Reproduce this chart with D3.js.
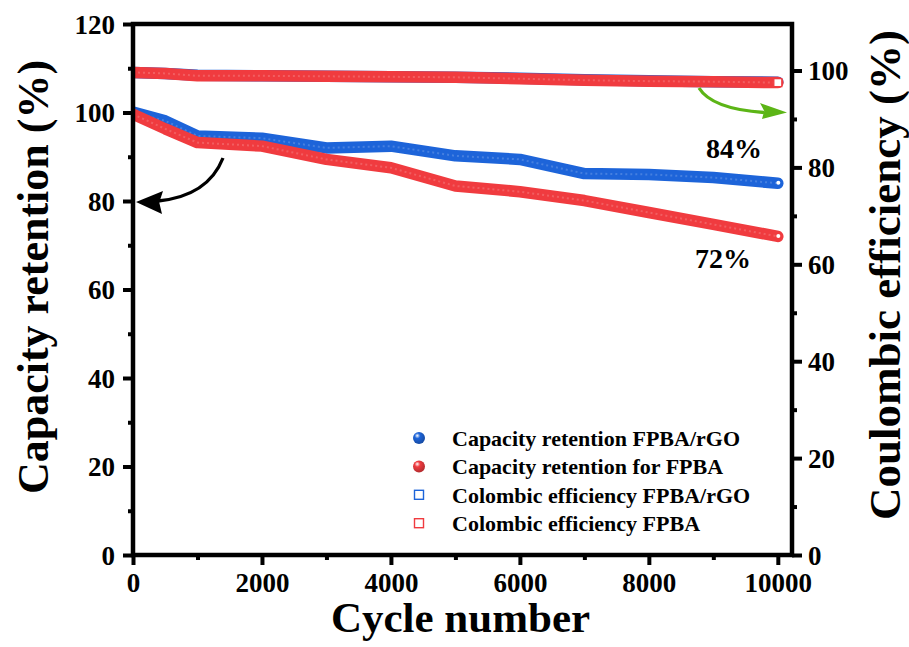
<!DOCTYPE html>
<html>
<head>
<meta charset="utf-8">
<script src="https://cdn.jsdelivr.net/npm/d3@7"></script>
<style>
  html, body { margin: 0; padding: 0; background: #fff; }
  svg { display: block; }
  text { font-family: 'Liberation Serif', 'Times New Roman', serif; font-weight: bold; fill: #000; }
</style>
</head>
<body>
<svg id="chart" width="909" height="647"></svg>
<script>
// Cycle numbers at which retention / efficiency were sampled
const cycles = [0, 500, 1000, 2000, 3000, 4000, 5000, 6000, 7000, 8000, 9000, 10000];

// Capacity retention (%) — left axis
const retentionRGO  = [100.1, 98.1, 94.7, 94.2, 92.0, 92.4, 90.2, 89.4, 86.2, 86.0, 85.3, 84];
const retentionFPBA = [99.6, 96.3, 93.2, 92.4, 89.4, 87.5, 83.4, 82.1, 80.1, 77.4, 74.7, 72];

// Coulombic efficiency (%) — right axis
const efficiencyRGO  = [99.6, 99.4, 99.0, 98.9, 98.8, 98.7, 98.6, 98.4, 98.1, 97.9, 97.7, 97.6];
const efficiencyFPBA = [99.6, 99.4, 98.9, 98.9, 98.8, 98.7, 98.6, 98.3, 98.0, 97.8, 97.7, 97.5];

// Tick values
const xTicks = [0, 2000, 4000, 6000, 8000, 10000];
const xMinorTicks = [1000, 3000, 5000, 7000, 9000];
const yLeftTicks = [0, 20, 40, 60, 80, 100, 120];
const yLeftMinorTicks = [10, 30, 50, 70, 90, 110];
const yRightTicks = [0, 20, 40, 60, 80, 100];
const yRightMinorTicks = [10, 30, 50, 70, 90];

// Legend entries and end-point labels
const legendLabels = [
  'Capacity retention FPBA/rGO',
  'Capacity retention for FPBA',
  'Colombic efficiency FPBA/rGO',
  'Colombic efficiency FPBA'
];
const endLabels = ['84%', '72%'];

const BLUE = '#1d64d9';
const RED = '#f03b3f';
const GREEN = '#5cb516';

const svg = d3.select('#chart');
const plot = { left: 133, right: 792, top: 24, bottom: 555 };

const x = d3.scaleLinear().domain([0, 10220]).range([plot.left, plot.right]);
const yL = d3.scaleLinear().domain([0, 120]).range([plot.bottom, plot.top]);
const yR = d3.scaleLinear().domain([0, 109.6]).range([plot.bottom, plot.top]);

// gradients for ball-style legend markers
const defs = svg.append('defs');
function ballGradient(id, color) {
  const g = defs.append('radialGradient').attr('id', id)
    .attr('cx', '40%').attr('cy', '35%').attr('r', '65%').attr('fx', '35%').attr('fy', '30%');
  g.append('stop').attr('offset', '0%').attr('stop-color', '#ffffff');
  g.append('stop').attr('offset', '35%').attr('stop-color', color);
  g.append('stop').attr('offset', '100%').attr('stop-color', d3.color(color).darker(0.8));
}
ballGradient('ballBlue', BLUE);
ballGradient('ballRed', RED);

defs.append('clipPath').attr('id', 'plotClip')
  .append('rect')
  .attr('x', plot.left).attr('y', plot.top - 10)
  .attr('width', plot.right - plot.left).attr('height', plot.bottom - plot.top + 10);

// data lines
const lineL = d3.line().x((d, i) => x(cycles[i])).y(d => yL(d));
const lineR = d3.line().x((d, i) => x(cycles[i])).y(d => yR(d));

const series = svg.append('g').attr('clip-path', 'url(#plotClip)');

function thickLine(data, gen, color) {
  series.append('path').datum(data)
    .attr('d', gen)
    .attr('fill', 'none')
    .attr('stroke', color)
    .attr('stroke-width', 11.5)
    .attr('stroke-linejoin', 'round')
    .attr('stroke-linecap', 'round');
  series.append('path').datum(data)
    .attr('d', gen)
    .attr('fill', 'none')
    .attr('stroke', '#ffffff')
    .attr('stroke-opacity', 0.18)
    .attr('stroke-width', 2)
    .attr('stroke-dasharray', '2 3')
    .attr('stroke-linejoin', 'round');
}

thickLine(efficiencyRGO, lineR, BLUE);
thickLine(efficiencyFPBA, lineR, RED);
thickLine(retentionRGO, lineL, BLUE);
thickLine(retentionFPBA, lineL, RED);

const last = cycles.length - 1;
// highlight on the final ball markers
[[retentionRGO, yL], [retentionFPBA, yL]].forEach(([arr, sc]) => {
  series.append('circle')
    .attr('cx', x(cycles[last]) + 0.5)
    .attr('cy', sc(arr[last]) - 0.5)
    .attr('r', 2)
    .attr('fill', '#fff');
});
// open square marker at the last efficiency point
series.append('rect')
  .attr('x', x(cycles[last]) - 4)
  .attr('y', yR(efficiencyFPBA[last]) - 4)
  .attr('width', 8).attr('height', 8)
  .attr('fill', '#fff')
  .attr('stroke', RED)
  .attr('stroke-width', 1.3);

// axes
function styleAxis(g) {
  g.select('.domain').remove();
  g.selectAll('.tick line').attr('stroke', '#000').attr('stroke-width', 4);
  g.selectAll('.tick text').style('font-size', '27px').style('font-family', "'Liberation Serif', 'Times New Roman', serif").style('font-weight', 'bold');
}

const fmt = d3.format('d');

svg.append('g').attr('transform', `translate(${plot.left},0)`)
  .call(d3.axisLeft(yL).tickValues(yLeftMinorTicks).tickSize(5).tickFormat(''))
  .call(styleAxis);
const axL = svg.append('g').attr('transform', `translate(${plot.left},0)`)
  .call(d3.axisLeft(yL).tickValues(yLeftTicks).tickSize(10).tickPadding(8).tickFormat(fmt))
  .call(styleAxis);
axL.selectAll('.tick text').attr('dy', '0.35em');

svg.append('g').attr('transform', `translate(${plot.right},0)`)
  .call(d3.axisRight(yR).tickValues(yRightMinorTicks).tickSize(5).tickFormat(''))
  .call(styleAxis);
const axR = svg.append('g').attr('transform', `translate(${plot.right},0)`)
  .call(d3.axisRight(yR).tickValues(yRightTicks).tickSize(10).tickPadding(6).tickFormat(fmt))
  .call(styleAxis);
axR.selectAll('.tick text').attr('dy', '0.35em');

svg.append('g').attr('transform', `translate(0,${plot.bottom})`)
  .call(d3.axisBottom(x).tickValues(xMinorTicks).tickSize(5).tickFormat(''))
  .call(styleAxis);
const axB = svg.append('g').attr('transform', `translate(0,${plot.bottom})`)
  .call(d3.axisBottom(x).tickValues(xTicks).tickSize(10).tickFormat(fmt))
  .call(styleAxis);
axB.selectAll('.tick text').attr('y', 37).attr('dy', 0);

// frame
svg.append('rect')
  .attr('x', plot.left).attr('y', plot.top)
  .attr('width', plot.right - plot.left).attr('height', plot.bottom - plot.top)
  .attr('fill', 'none').attr('stroke', '#000').attr('stroke-width', 4.5);

// axis titles
svg.append('text')
  .attr('x', (plot.left + plot.right) / 2 - 2).attr('y', 632)
  .attr('text-anchor', 'middle')
  .style('font-size', '43px')
  .text('Cycle number');

svg.append('text')
  .attr('transform', 'translate(48,277) rotate(-90)')
  .attr('text-anchor', 'middle')
  .style('font-size', '44px')
  .text('Capacity retention (%)');

svg.append('text')
  .attr('transform', 'translate(900,275) rotate(-90)')
  .attr('text-anchor', 'middle')
  .style('font-size', '45px')
  .text('Coulombic efficiency (%)');

// end-point labels
svg.append('text').attr('x', 706).attr('y', 158).style('font-size', '28px').text(endLabels[0]);
svg.append('text').attr('x', 695).attr('y', 268).style('font-size', '28px').text(endLabels[1]);

// annotation arrows
function arrow(pathD, tip, b1, b2, color) {
  svg.append('path').attr('d', pathD)
    .attr('fill', 'none').attr('stroke', color).attr('stroke-width', 3.3);
  svg.append('path')
    .attr('d', `M${tip[0]},${tip[1]} L${b1[0]},${b1[1]} L${(b1[0] + b2[0]) / 2 - (b1[0] - tip[0]) * 0.12},${(b1[1] + b2[1]) / 2} L${b2[0]},${b2[1]} Z`)
    .attr('fill', color);
}
arrow('M223,158 Q208,196 158,201', [136, 202], [163, 191], [162, 214], '#000');
arrow('M699,88 Q712,109 764,112.5', [787, 112.5], [760, 103], [762, 119], GREEN);

// legend
const legend = svg.append('g');
const legendX = 419, legendY0 = 438, legendDy = 28.4;
legendLabels.forEach((label, i) => {
  const cy = legendY0 + i * legendDy;
  if (i < 2) {
    legend.append('circle').attr('cx', legendX).attr('cy', cy).attr('r', 6)
      .attr('fill', i === 0 ? 'url(#ballBlue)' : 'url(#ballRed)');
  } else {
    legend.append('rect').attr('x', legendX - 4.5).attr('y', cy - 4.5)
      .attr('width', 9).attr('height', 9)
      .attr('fill', '#fff')
      .attr('stroke', i === 2 ? BLUE : RED)
      .attr('stroke-width', 1.4);
  }
  legend.append('text').attr('x', 452).attr('y', cy + 8)
    .style('font-size', '22px')
    .text(label);
});
</script>
</body>
</html>
